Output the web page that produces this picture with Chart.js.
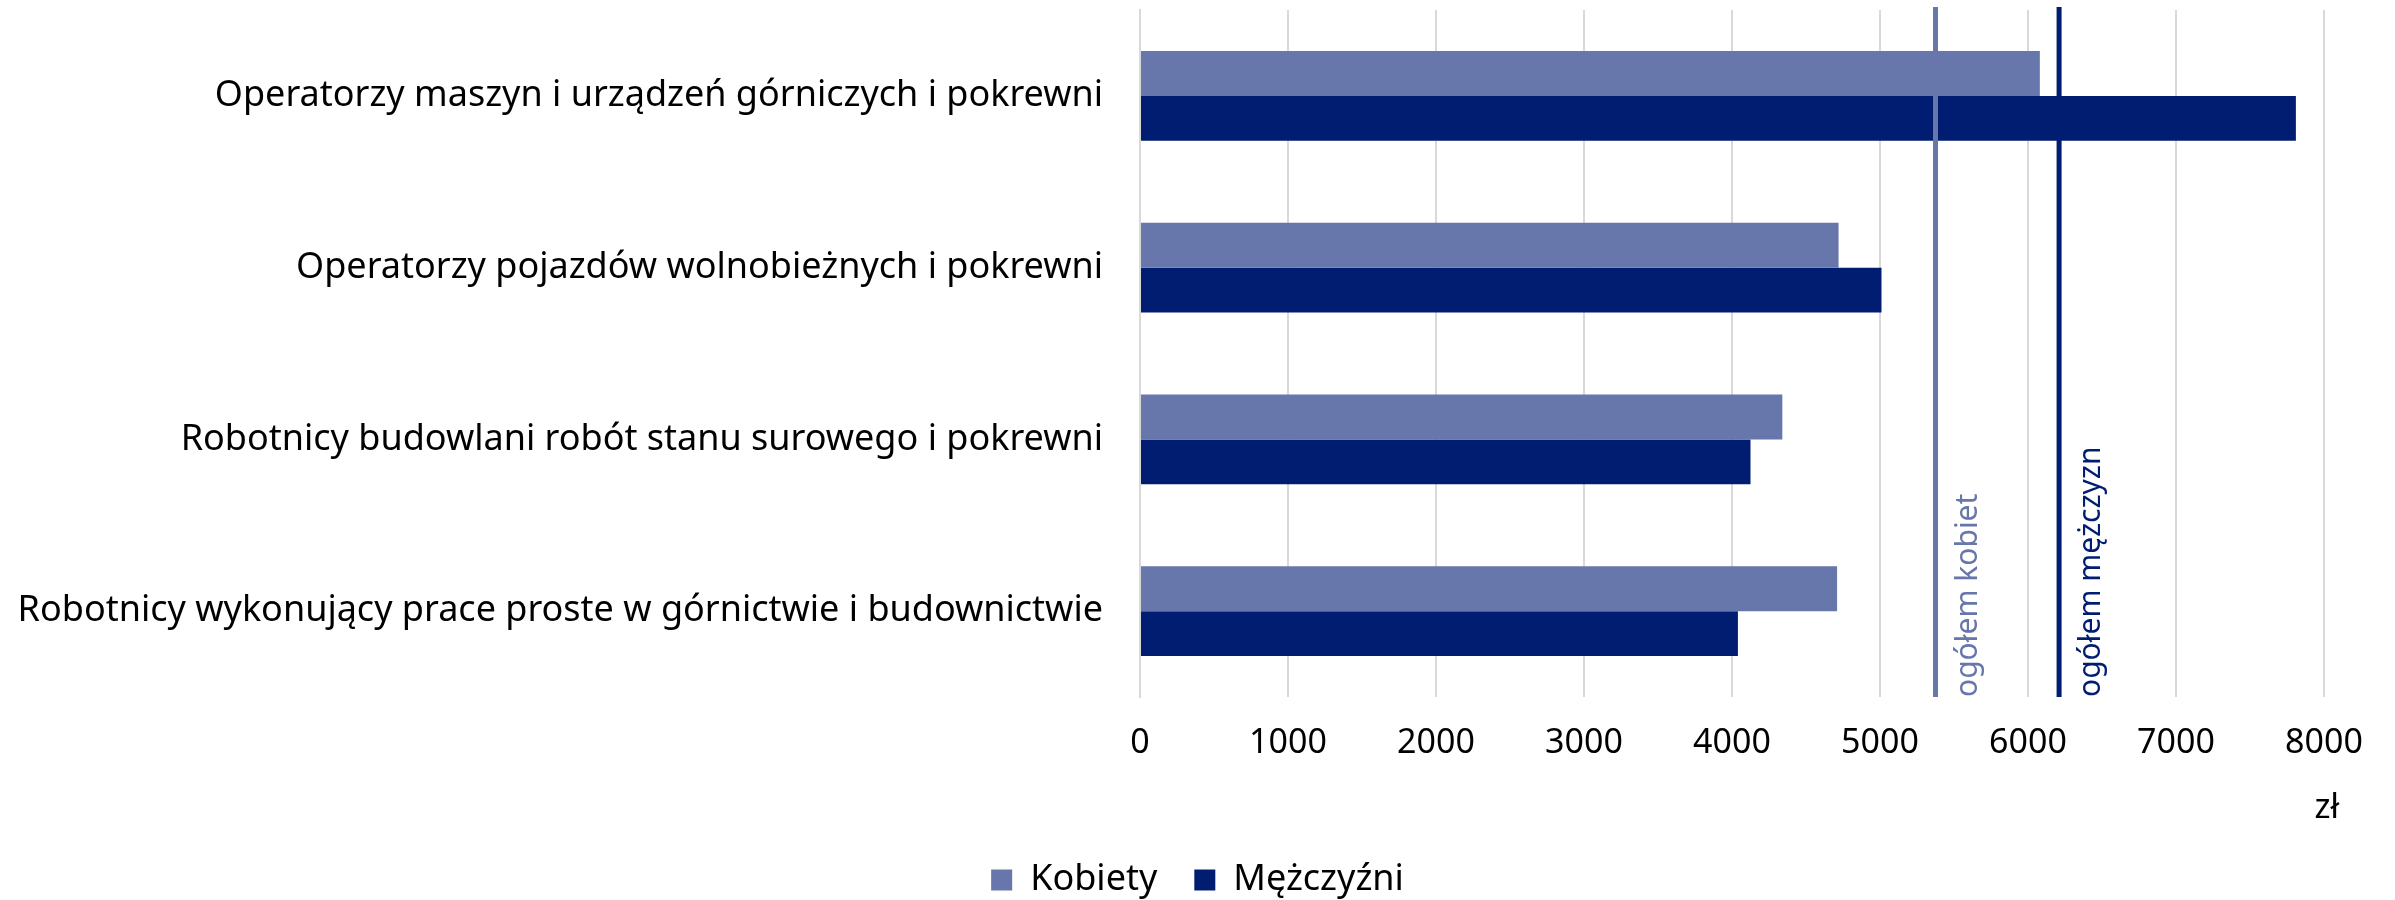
<!DOCTYPE html>
<html>
<head>
<meta charset="utf-8">
<script src="https://cdn.jsdelivr.net/npm/chart.js@4/dist/chart.umd.min.js"></script>
<style>
  html, body { margin: 0; padding: 0; background: #fff; }
  #wrap { width: 2395px; height: 900px; }
</style>
</head>
<body>
<div id="wrap"><canvas id="myChart"></canvas></div>
<script>
var kategorie = [
    "Operatorzy maszyn i urządzeń górniczych i pokrewni",
    "Operatorzy pojazdów wolnobieżnych i pokrewni",
    "Robotnicy budowlani robót stanu surowego i pokrewni",
    "Robotnicy wykonujący prace proste w górnictwie i budownictwie"
];
var kobiety = [6080, 4720, 4340, 4710];
var mezczyzni = [7810, 5010, 4125, 4040];
var ogolemKobiet = 5375;
var ogolemMezczyzn = 6210;
var jednostka = "zł";

var kolorK = "#6776ab";
var kolorM = "#001d72";

Chart.defaults.font.family = "'Noto Sans', sans-serif";
Chart.defaults.color = "#000";

// linie pionowe "ogółem" z podpisem + jednostka pod osia
var liniePlugin = {
    id: "linie",
    afterDatasetsDraw: function(chart) {
        var ctx = chart.ctx;
        var x = chart.scales.x;
        var area = chart.chartArea;
        var linie = [
            {v: ogolemKobiet, c: kolorK, t: "ogółem kobiet"},
            {v: ogolemMezczyzn, c: kolorM, t: "ogółem mężczyzn"}
        ];
        linie.forEach(function(l) {
            var px = x.getPixelForValue(l.v);
            ctx.save();
            ctx.strokeStyle = l.c;
            ctx.lineWidth = 5;
            ctx.beginPath();
            ctx.moveTo(px, area.top - 3);
            ctx.lineTo(px, area.bottom);
            ctx.stroke();
            ctx.translate(px + 41, area.bottom);
            ctx.rotate(-Math.PI / 2);
            ctx.fillStyle = l.c;
            ctx.font = "30px 'Noto Sans'";
            ctx.textAlign = "left";
            ctx.textBaseline = "alphabetic";
            ctx.fillText(l.t, 0, 0);
            ctx.restore();
        });
        ctx.save();
        ctx.fillStyle = "#000";
        ctx.font = "34px 'Noto Sans'";
        ctx.textAlign = "center";
        ctx.textBaseline = "middle";
        ctx.fillText(jednostka, x.getPixelForValue(x.max) + 3, area.bottom + 111);
        ctx.restore();
    }
};

var bieudo = new Chart(document.getElementById("myChart"), {
    type: "bar",
    data: {
        labels: kategorie,
        datasets: [
            {label: "Kobiety", data: kobiety, backgroundColor: kolorK, borderWidth: 0},
            {label: "Mężczyźni", data: mezczyzni, backgroundColor: kolorM, borderWidth: 0}
        ]
    },
    options: {
        indexAxis: "y",
        responsive: true,
        maintainAspectRatio: false,
        animation: false,
        categoryPercentage: 0.524,
        barPercentage: 1,
        layout: {padding: {left: 0, right: 0, top: 10, bottom: -8}},
        scales: {
            x: {
                min: 0,
                max: 8000,
                ticks: {
                    stepSize: 1000, padding: 26, font: {size: 34}, color: "#000",
                    callback: function(v) { return v; }
                },
                grid: {color: "#d9d9d9", lineWidth: 2, drawTicks: false},
                border: {display: false},
                afterFit: function(scale) { scale.height = 128; }
            },
            y: {
                ticks: {padding: 37, font: {size: 36}, color: "#000"},
                grid: {display: false, drawTicks: false},
                border: {display: true, color: "#d9d9d9", width: 2},
                afterFit: function(scale) {
                    scale.width = 1140;
                    scale.paddingTop = 0;
                    scale.paddingBottom = 0;
                }
            },
            // pusta os po prawej, tylko zeby zostawic miejsce
            prawa: {
                type: "linear",
                position: "right",
                ticks: {display: false},
                grid: {display: false, drawTicks: false},
                border: {display: false},
                afterFit: function(scale) {
                    scale.width = 71;
                    scale.paddingTop = 0;
                    scale.paddingBottom = 0;
                }
            }
        },
        plugins: {
            legend: {
                position: "bottom",
                labels: {boxWidth: 21, boxHeight: 21, padding: 37, font: {size: 36}, color: "#000"}
            },
            tooltip: {enabled: false}
        }
    },
    plugins: [liniePlugin]
});
</script>
</body>
</html>
